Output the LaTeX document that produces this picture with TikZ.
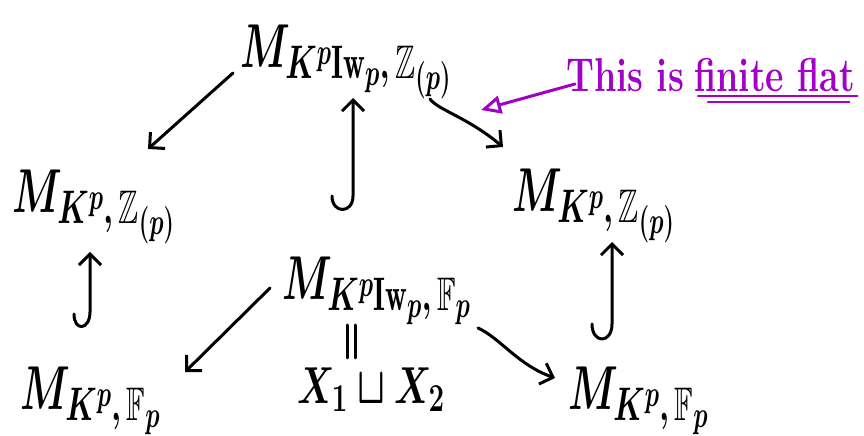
\RequirePackage{fix-cm}
\documentclass[tikz,border=0pt]{standalone}
\usepackage{amssymb}
\usepackage{fontspec}
\usetikzlibrary{arrows.meta,calc}
\definecolor{ink}{RGB}{160,0,200}
\makeatletter
\renewcommand\defaultscriptratio{.76}
\renewcommand\defaultscriptscriptratio{.6}
\makeatother
\begin{document}
\begin{tikzpicture}[x=1pt,y=1pt,
  space/.style={font=\fontsize{62}{70}\selectfont\boldmath, inner sep=0pt,
    anchor=base west, xscale=0.64, transform shape},
  note/.style={font=\fontsize{38}{44}\selectfont\bfseries, text=ink, inner sep=0pt,
    anchor=base west, xscale=0.94, yscale=1.25, transform shape},
  arr/.style={line width=3pt, line cap=round, line join=round,
    -{Straight Barb[length=11pt,width=22pt,line width=3pt]}},
  pen/.style={line width=3pt, line cap=round}]
\useasboundingbox (0,0) rectangle (864,436);

% the six moduli spaces
\node[space] (top) at (240,368) {$M_{K^p\mathrm{Iw}_p,\,\mathbb{Z}_{(p)}}$};
\node[space] (lm)  at (12,223)  {$M_{K^p,\,\mathbb{Z}_{(p)}}$};
\node[space] (rm)  at (512,224) {$M_{K^p,\,\mathbb{Z}_{(p)}}$};
\node[space] (cm)  at (282,136) {$M_{K^p\mathrm{Iw}_p,\,\mathbb{F}_p}$};
\node[space] (bl)  at (20,26)   {$M_{K^p,\,\mathbb{F}_p}$};
\node[space] (br)  at (568,26)  {$M_{K^p,\,\mathbb{F}_p}$};
\node[font=\fontsize{52}{60}\selectfont\boldmath, inner sep=0pt, xscale=0.7, transform shape]
  (xx) at (371,46) {$X_1\sqcup X_2$};

% equality between special fibre and the two components
\draw[pen] ($(cm.base west)+(65,-25)$) -- ($(cm.base west)+(65,-58)$);
\draw[pen] ($(cm.base west)+(73,-25)$) -- ($(cm.base west)+(73,-58)$);

% projections
\draw[arr] ($(top.base west)+(-7,-5)$) -- ($(lm.base west)+(136,64)$);
\draw[arr] ($(top.base west)+(190,-31)$) .. controls ($(top.base west)+(198,-42)$) and ($(rm.base west)+(-45,95)$) .. ($(rm.base west)+(-9,65)$);
\draw[arr] ($(cm.base west)+(-12,12)$) -- ($(bl.base west)+(165,38)$);
\draw[arr] ($(cm.base west)+(196,-28)$) .. controls ($(cm.base west)+(218,-38)$) and ($(br.base west)+(-50,45)$) .. ($(br.base west)+(-13,32)$);

% closed immersions (hooked arrows)
\draw[arr] ($(bl.base west)+(54,96)$) .. controls ($(bl.base west)+(54,78)$) and ($(bl.base west)+(70,80)$) .. ($(bl.base west)+(70,98)$) -- ($(lm.base west)+(78,-39)$);
\draw[arr] ($(cm.base west)+(50,104)$) .. controls ($(cm.base west)+(50,86)$) and ($(cm.base west)+(71,86)$) .. ($(cm.base west)+(71,104)$) -- ($(top.base west)+(113,-30)$);
\draw[arr] ($(br.base west)+(24,86)$) .. controls ($(br.base west)+(24,66)$) and ($(br.base west)+(44,66)$) .. ($(br.base west)+(44,86)$) -- ($(rm.base west)+(100,-30)$);

% remark in colour
\node[note] (this) at (566,344) {This is};
\node[note] (ff) at ($(this.base east)+(10,0)$) {finite flat};
\draw[line width=2.6pt, ink, line cap=round] ($(ff.base west)+(4,-4)$) -- ($(ff.base east)+(2,-4)$);
\draw[line width=2.6pt, ink, line cap=round] ($(ff.base west)+(14,-10)$) -- ($(ff.base east)+(-6,-10)$);
\coordinate (aim) at (481,326);
\draw[line width=3pt, ink, line cap=round,
  -{Triangle[open,length=20pt,width=18pt,line width=3pt]}]
  ($(this.base west)+(9,8)$) -- (aim);
\end{tikzpicture}
\end{document}
